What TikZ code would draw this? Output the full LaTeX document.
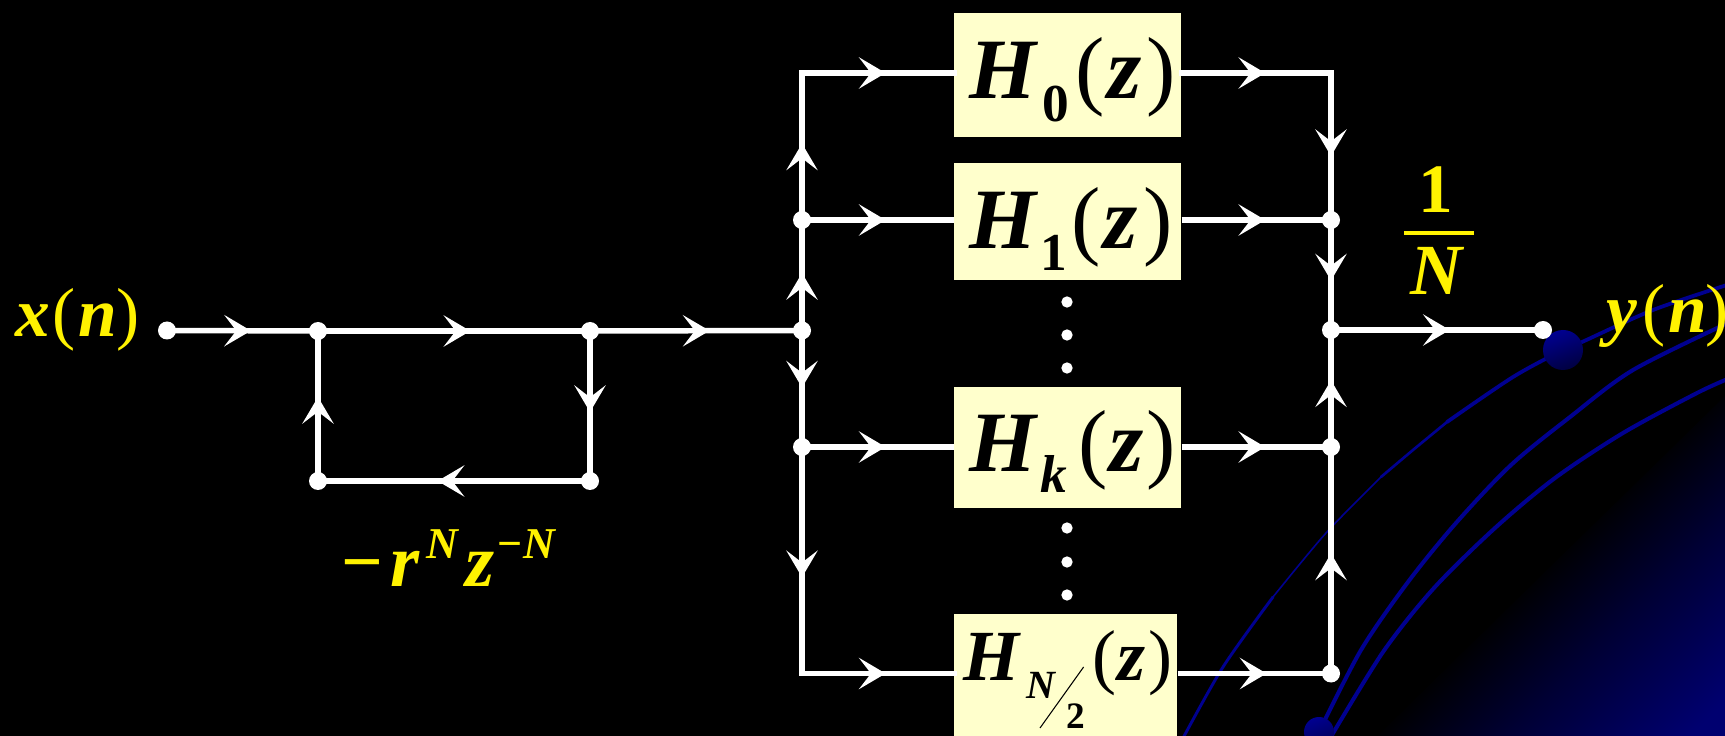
\documentclass[tikz,border=0pt]{standalone}
\usepackage{fontspec}
\setmainfont{Liberation Serif}
\usetikzlibrary{arrows.meta,decorations.markings}
\newdimen\pxu \pxu=0.75pt
\newcommand\Pl[3]{\rlap{\kern#1\pxu\raisebox{#2\pxu}{#3}}}
\newcommand\BI[1]{\fontsize{#1pt}{#1pt}\selectfont\bfseries\itshape}
\newcommand\BD[1]{\fontsize{#1pt}{#1pt}\selectfont\bfseries\upshape}
\newcommand\RM[1]{\fontsize{#1pt}{#1pt}\selectfont\mdseries\upshape}
\definecolor{boxfill}{HTML}{FFFFCC}
\definecolor{glow}{HTML}{000070}
\definecolor{glowmid}{HTML}{000034}
\definecolor{curve}{HTML}{000090}
\pgfdeclarehorizontalshading{cornerglow}{100bp}{color(0bp)=(black); color(49bp)=(black); color(63bp)=(glowmid); color(82bp)=(glow); color(100bp)=(glow)}
\tikzset{
  wire/.style={draw=white,line width=4.1pt},
  flow/.style={postaction={decorate,decoration={markings,mark=at position #1 with {\arrow{Stealth[length=20pt,width=23.5pt,inset=9pt]}}}}},
  dotnode/.style={circle,fill=white,inner sep=0pt,minimum size=13.5pt},
  smalldot/.style={circle,fill=white,inner sep=0pt,minimum size=8.5pt},
  filterbox/.style={anchor=north west,fill=boxfill,text=black,inner sep=0pt},
  label/.style={anchor=base west,inner sep=0pt,text=yellow},
  arc1/.style={draw=curve,line cap=round,line join=round},
}
\begin{document}
\begin{tikzpicture}[x=0.75pt,y=-0.75pt]
\useasboundingbox (0,0) rectangle (1725,735.7);
\fill[black] (-5,-5) rectangle (1730,745);
% corner glow
\shade[shading=cornerglow,shading angle=-45] (1377,736) -- (1725,396) -- (1725,736) -- cycle;
% background curves
\draw[arc1,line width=2.2pt] plot[smooth,tension=.5] coordinates {(1182,740) (1223,667) (1273,597)};
\draw[arc1,line width=1.2pt] plot[smooth,tension=.5] coordinates {(1273,597) (1326,533) (1381,477)};
\draw[arc1,line width=2pt] plot[smooth,tension=.5] coordinates {(1381,477) (1413,450) (1447,422)};
\draw[arc1,line width=2.8pt] plot[smooth,tension=.5] coordinates {(1447,422) (1513,377) (1563,350) (1582,342) (1653,310) (1730,284)};
\draw[arc1,line width=3pt] plot[smooth,tension=.5] coordinates {(1319,732) (1361,650) (1408,582) (1456,523) (1511,465) (1570,417) (1633,370) (1730,322)};
\draw[arc1,line width=3pt] plot[smooth,tension=.5] coordinates {(1329,740) (1383,652) (1434,588) (1495,528) (1555,478) (1623,433) (1697,393) (1730,378)};
\shade[left color=curve,right color=curve!45!black,shading angle=20] (1563,350) circle (20);
\shade[left color=curve,right color=curve!60!black,shading angle=20] (1319,732) circle (15);
% nodes
\node[dotnode] (in) at (167,330.5) {};
\node[dotnode] (n1) at (318,331) {};
\node[dotnode] (n2) at (590,331) {};
\node[dotnode] (n3) at (590,481) {};
\node[dotnode] (n4) at (318,481) {};
\node[dotnode] (lm) at (802,330.5) {};
\node[dotnode] (l1) at (802,220) {};
\node[dotnode] (lk) at (802,447) {};
\coordinate (l0) at (802,73);
\coordinate (lb) at (802,673.5);
\node[dotnode] (rm) at (1331,330) {};
\node[dotnode] (r1) at (1331,220) {};
\node[dotnode] (rk) at (1331,447) {};
\node[dotnode] (rb) at (1331,673.5) {};
\coordinate (r0) at (1331,73);
\node[dotnode] (out) at (1543,330) {};
% filter boxes
\node[filterbox,text height=63.75pt,text depth=29.25pt] (h0) at (954,13) {\makebox[170.25pt][l]{\Pl{15}{0}{\BI{64.5}H}\Pl{88}{-23}{\BD{40}0}\Pl{121}{0}{\RM{66}(}\Pl{153}{0}{\BI{66}z}\Pl{192}{0}{\RM{66})}}};
\node[filterbox,text height=63.75pt,text depth=24pt] (h1) at (954,163) {\makebox[170.25pt][l]{\Pl{15}{0}{\BI{64.5}H}\Pl{86}{-22}{\BD{40}1}\Pl{117}{0}{\RM{66}(}\Pl{149}{0}{\BI{66}z}\Pl{189}{0}{\RM{66})}}};
\node[filterbox,text height=63pt,text depth=27.75pt] (hk) at (954,387) {\makebox[170.25pt][l]{\Pl{15}{0}{\BI{64.5}H}\Pl{86}{-21}{\BI{40}k}\Pl{124}{0}{\RM{66}(}\Pl{155}{0}{\BI{66}z}\Pl{192}{0}{\RM{66})}}};
\node[filterbox,text height=49.5pt,text depth=42pt] (hn) at (954,614) {\makebox[167.25pt][l]{\Pl{9}{0}{\BI{54}H}\Pl{72}{-18}{\BI{30}N}\Pl{112}{-48}{\BD{28}2}\Pl{138}{0}{\RM{54}(}\Pl{163}{0}{\BI{54}z}\Pl{194}{0}{\RM{54})}}};
\draw[black,line width=0.8pt] (1083.6,667) -- (1040,728);
% left loop
\draw[wire,flow=.556] (in.center) -- (n1.center);
\draw[wire,flow=.56] (n1.center) -- (n2.center);
\draw[wire,flow=.564] (n2.center) -- (lm.center);
\draw[wire,flow=.54] (n2.center) -- (n3.center);
\draw[wire,flow=.56] (n3.center) -- (n4.center);
\draw[wire,flow=.56] (n4.center) -- (n1.center);
% left bus
\draw[wire,flow=.52] (lm.center) -- (l1.center);
\draw[wire,flow=.52] (l1.center) -- (l0);
\draw[wire,flow=.49] (lm.center) -- (lk.center);
\draw[wire,flow=.575] (lk.center) -- (lb);
% right bus
\draw[wire,flow=.565] (r0) -- (r1.center);
\draw[wire,flow=.55] (r1.center) -- (rm.center);
\draw[wire,flow=.53] (rb.center) -- (rk.center);
\draw[wire,flow=.57] (rk.center) -- (rm.center);
% branches
\draw[wire,flow=.55,line cap=rect] (l0) -- (l0 -| h0.west);
\draw[wire,flow=.55] (l1.center) -- (l1 -| h1.west);
\draw[wire,flow=.55] (lk.center) -- (lk -| hk.west);
\draw[wire,flow=.55,line cap=rect] (lb) -- (lb -| hn.west);
\draw[wire,flow=.56,line cap=rect] (r0 -| h0.east) -- (r0);
\draw[wire,flow=.56] (r1 -| h1.east) -- (r1.center);
\draw[wire,flow=.56] (rk -| hk.east) -- (rk.center);
\draw[wire,flow=.58] (rb -| hn.east) -- (rb.center);
\draw[wire,flow=.56] (rm.center) -- (out.center);
% ellipsis dots
\foreach \nm/\yy in {a/302,b/335,c/368,d/528,e/562,f/595}
  \node[smalldot] (dots\nm) at (1067,\yy) {};
% labels
\node[label] (xn) at (15,337) {\makebox[125pt][l]{\Pl{0}{0}{\BI{52}x}\Pl{37}{0}{\RM{52}(}\Pl{63}{0}{\BI{52}n}\Pl{101}{0}{\RM{52})}}};
\node[label] (gain) at (341,586) {\makebox[160pt][l]{\Pl{0}{0}{\BD{55}−}\Pl{49}{0}{\BI{56}r}\Pl{85}{28}{\BI{33}N}\Pl{124}{0}{\BI{56}z}\Pl{156}{28}{\BD{33}−}\Pl{182}{28}{\BI{33}N}}};
\node[label] (one) at (1418,213) {\BD{52}1};
\node[label] (nn) at (1410,295) {\BI{54}N};
\draw[yellow,line width=2.4pt] (1404,233) -- (1474,233);
\node[label] (yn) at (1606,333) {\makebox[92pt][l]{\Pl{0}{0}{\BI{52}y}\Pl{36}{0}{\RM{52}(}\Pl{62}{0}{\BI{52}n}\Pl{99}{0}{\RM{52})}}};
\end{tikzpicture}
\end{document}
